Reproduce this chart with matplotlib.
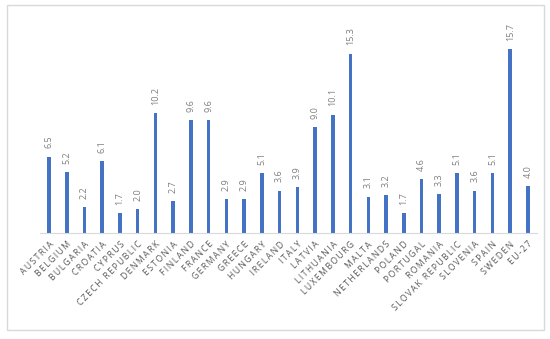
import matplotlib.pyplot as plt
from matplotlib.patches import Rectangle

countries = ["AUSTRIA", "BELGIUM", "BULGARIA", "CROATIA", "CYPRUS", "CZECH REPUBLIC",
             "DENMARK", "ESTONIA", "FINLAND", "FRANCE", "GERMANY", "GREECE", "HUNGARY",
             "IRELAND", "ITALY", "LATVIA", "LITHUANIA", "LUXEMBOURG", "MALTA",
             "NETHERLANDS", "POLAND", "PORTUGAL", "ROMANIA", "SLOVAK REPUBLIC",
             "SLOVENIA", "SPAIN", "SWEDEN", "EU-27"]
values = [6.5, 5.2, 2.2, 6.1, 1.7, 2.0, 10.2, 2.7, 9.6, 9.6, 2.9, 2.9, 5.1, 3.6, 3.9,
          9.0, 10.1, 15.3, 3.1, 3.2, 1.7, 4.6, 3.3, 5.1, 3.6, 5.1, 15.7, 4.0]


def spaced(s):
    # the original labels have letter spacing
    return "\u2009".join(s)


def main():
    plt.rcParams['font.family'] = ['Open Sans', 'DejaVu Sans']
    fig = plt.figure(figsize=(5.5, 3.39), dpi=100)
    ax = fig.add_axes([0.073, 0.313, 0.903, 0.622])

    x = list(range(len(countries)))
    ax.bar(x, values, width=0.2, color="#4472C4")
    for xi, v in zip(x, values):
        ax.annotate(f"{v:.1f}", (xi, v), xytext=(0, 6), textcoords="offset points",
                    rotation=90, ha="center", va="bottom", fontsize=6.5,
                    color="#7f7f7f")

    ax.set_xlim(-0.5, len(countries) - 0.5)
    ax.set_ylim(0, 18)
    ax.set_xticks(x)
    ax.set_xticklabels([spaced(c) for c in countries], rotation=45, ha="right",
                       rotation_mode="anchor", fontsize=6.2, color="#595959")
    ax.tick_params(axis="x", length=0, pad=5)
    ax.set_yticks([])
    for side in ["top", "right", "left"]:
        ax.spines[side].set_visible(False)
    ax.spines["bottom"].set_color("#d9d9d9")

    # chart area border
    fig.patches.append(Rectangle((7 / 550, 9 / 339), 537 / 550, 325 / 339,
                                 transform=fig.transFigure, fill=False,
                                 edgecolor="#d9d9d9", linewidth=1))

    fig.savefig("out.png", dpi=100)


if __name__ == "__main__":
    main()
